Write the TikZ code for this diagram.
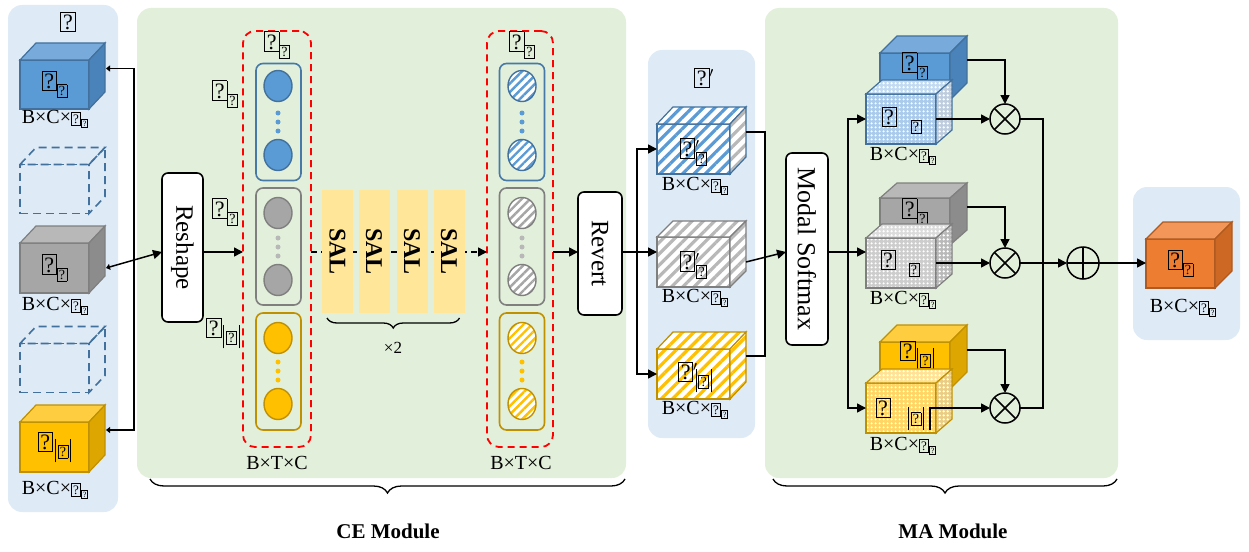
\documentclass[tikz,border=0pt]{standalone}
\usepackage{fontspec}
\setmainfont{Liberation Serif}
\usetikzlibrary{calc,arrows.meta,patterns.meta,shapes.geometric,decorations.pathreplacing}

% colours
\definecolor{pblue}{RGB}{222,234,246}
\definecolor{pgreen}{RGB}{226,239,218}
\definecolor{cbF}{RGB}{91,155,213}
\definecolor{cbT}{RGB}{120,170,220}
\definecolor{cbS}{RGB}{74,130,186}
\definecolor{cbD}{RGB}{65,113,156}
\definecolor{cgF}{RGB}{166,166,166}
\definecolor{cgT}{RGB}{184,184,184}
\definecolor{cgS}{RGB}{140,140,140}
\definecolor{cgD}{RGB}{127,127,127}
\definecolor{cyF}{RGB}{255,192,0}
\definecolor{cyT}{RGB}{255,206,64}
\definecolor{cyS}{RGB}{222,166,0}
\definecolor{cyD}{RGB}{191,144,0}
\definecolor{coF}{RGB}{237,125,49}
\definecolor{coT}{RGB}{242,150,90}
\definecolor{coS}{RGB}{205,104,36}
\definecolor{coD}{RGB}{174,90,33}
\definecolor{salc}{RGB}{255,230,153}
\definecolor{lbF}{RGB}{170,203,235}
\definecolor{lbS}{RGB}{190,205,222}
\definecolor{lgF}{RGB}{205,205,205}
\definecolor{lgS}{RGB}{185,185,185}
\definecolor{lyF}{RGB}{255,214,100}
\definecolor{lyS}{RGB}{235,205,130}

% boxed question-mark glyph
\newcommand\qb{{\setlength\fboxsep{0.6pt}\setlength\fboxrule{0.7pt}\fbox{\hspace{0.06em}\rule[-0.06em]{0pt}{0.8em}?\hspace{0.06em}}}}
\newcommand\qbig{{\fontsize{22}{22}\selectfont\qb}}
\newcommand\qsmall{{\fontsize{14}{14}\selectfont\qb}}
\newcommand\vbar{\rule[-13pt]{0.9pt}{23pt}}
\newcommand\symsub{\qbig\raisebox{-7.4pt}{\qsmall}}
\newcommand\symbar{\qbig\hspace{2pt}\vbar\hspace{2pt}\raisebox{-7.4pt}{\qsmall}\hspace{2pt}\vbar}
\newcommand\primesym{\qbig{\fontsize{20}{20}\selectfont$'$}}
\newcommand\primesub{\qbig{\fontsize{20}{20}\selectfont$'$}\hspace{-3pt}\raisebox{-7.4pt}{\qsmall}}
\newcommand\primebar{\qbig{\fontsize{20}{20}\selectfont$'$}\hspace{-2pt}\vbar\hspace{2pt}\raisebox{-7.4pt}{\qsmall}\hspace{2pt}\vbar}
\newcommand\dimlbl{B×C×{\fontsize{13}{13}\selectfont\qb}\raisebox{-3pt}{\fontsize{8}{8}\selectfont\qb}}
\newcommand\lblfont{\fontsize{20}{22}\selectfont}
\newcommand\opfont{\fontsize{25}{25}\selectfont}
\newcommand\salfont{\fontsize{24}{24}\selectfont\bfseries}

% top and side faces of a box whose front face is a node
\newcommand\cubesides[5]{%
  \path[#4] (#1.north west) -- ++(#2,-#3) -- ($(#1.north east)+(#2,-#3)$) -- (#1.north east) -- cycle;
  \path[#5] (#1.north east) -- ++(#2,-#3) -- ($(#1.south east)+(#2,-#3)$) -- (#1.south east) -- cycle;
}

\begin{document}
\begin{tikzpicture}[x=1pt,y=-1pt,
  wire/.style={line width=1.5pt,draw=black},
  arr/.style={wire,-{Triangle[length=9pt,width=9pt]}},
  opbox/.style={draw,line width=1.6pt,rounded corners=6pt,fill=white,inner sep=0pt,outer sep=0pt,font=\opfont},
  redbox/.style={draw=red,line width=1.8pt,rounded corners=12pt,dash pattern=on 7pt off 5pt,inner sep=0pt,outer sep=0pt},
  grp/.style={line width=1.6pt,rounded corners=7pt,inner sep=0pt,outer sep=0pt,minimum width=45pt,minimum height=117pt},
  tok/.style={ellipse,line width=1.4pt,minimum width=28pt,minimum height=31pt,inner sep=0pt,outer sep=0pt},
  tdot/.style={circle,inner sep=0pt,minimum size=5pt},
  face/.style={inner sep=0pt,outer sep=0pt,line width=1.2pt,font=\lblfont},
  sal/.style={fill=salc,inner sep=0pt,outer sep=0pt,minimum width=31pt,minimum height=123pt,font=\salfont},
  opc/.style={circle,draw,line width=1.5pt,minimum size=30pt,inner sep=0pt,outer sep=0pt},
  brace/.style={decorate,decoration={brace,mirror,amplitude=14pt},line width=1.3pt},
  txt/.style={inner sep=0pt,font=\lblfont},
  hatch/.style={preaction={fill=white},pattern={Lines[angle=45,distance=8pt,line width=3.2pt]},pattern color=#1},
  hatchs/.style={preaction={fill=white},pattern={Lines[angle=45,distance=6pt,line width=2.4pt]},pattern color=#1},
  dotted face/.style={preaction={fill=#1},pattern={Dots[radius=1.5pt,distance=4pt]},pattern color=white},
]
\useasboundingbox (0,0) rectangle (1249,551);

% ---------- panels ----------
\path[fill=pblue,rounded corners=14pt] (8,5) rectangle (118,512);
\path[fill=pgreen,rounded corners=14pt] (137,8) rectangle (626,478);
\path[fill=pblue,rounded corners=14pt] (648,50) rectangle (755,438);
\path[fill=pgreen,rounded corners=14pt] (765,8) rectangle (1118,478);
\path[fill=pblue,rounded corners=14pt] (1133,187) rectangle (1240,340);

% ---------- input modalities ----------
\node[txt] (inlbl) at (68,22) {\qbig};

\node[face,fill=cbF,draw=cbD,minimum width=69pt,minimum height=49pt] (in1) at (54.5,84.5) {\symsub};
\cubesides{in1}{16}{17}{fill=cbT,draw=cbD,line width=1.2pt}{fill=cbS,draw=cbD,line width=1.2pt}
\node[txt] (in1d) at (55,119) {\dimlbl};

\node[face,draw=cbD,dashed,dash pattern=on 8pt off 5pt,line width=1.6pt,minimum width=69pt,minimum height=49pt] (dc1) at (54.5,189) {};
\cubesides{dc1}{16}{17}{draw=cbD,line width=1.6pt,dash pattern=on 8pt off 5pt}{draw=cbD,line width=1.6pt,dash pattern=on 8pt off 5pt}

\node[face,fill=cgF,draw=cgD,minimum width=69pt,minimum height=50pt] (in2) at (54.5,268) {\symsub};
\cubesides{in2}{16}{17}{fill=cgT,draw=cgD,line width=1.2pt}{fill=cgS,draw=cgD,line width=1.2pt}
\node[txt] (in2d) at (55,306) {\dimlbl};

\node[face,draw=cbD,line width=1.6pt,dash pattern=on 8pt off 5pt,minimum width=69pt,minimum height=49pt] (dc2) at (54.5,368) {};
\cubesides{dc2}{16}{17}{draw=cbD,line width=1.6pt,dash pattern=on 8pt off 5pt}{draw=cbD,line width=1.6pt,dash pattern=on 8pt off 5pt}

\node[face,fill=cyF,draw=cyD,minimum width=69pt,minimum height=50pt] (in3) at (54.5,447) {\symbar};
\cubesides{in3}{16}{17}{fill=cyT,draw=cyD,line width=1.2pt}{fill=cyS,draw=cyD,line width=1.2pt}
\node[txt] (in3d) at (55,490) {\dimlbl};

\coordinate (axis) at (0,252);
\coordinate (jin) at (134,252);
\draw[wire,{Triangle[length=4pt,width=6pt]}-] ($(in1.east)+(17,-16)$) -| (jin);
\draw[wire,{Triangle[length=4pt,width=6pt]}-] ($(in3.east)+(17,-17)$) -| (jin);

% ---------- CE module ----------
\node[opbox,minimum width=41pt,minimum height=149pt] (reshape) at (182.5,247.5) {\rotatebox{-90}{Reshape}};
\draw[arr,{Triangle[length=4pt,width=6pt]}-{Triangle[length=9pt,width=9pt]}] ($(in2.east)+(17,0)$ |- axis) -- (reshape.west |- axis);

\node[redbox,minimum width=68pt,minimum height=416pt] (tok1) at (277,239) {};
\node[txt] (tok1l) at (277,45) {\symsub};
\node[txt] (lblb) at (225,94) {\symsub};
\node[txt] (lblg) at (225,212) {\symsub};
\node[txt] (lbly) at (223,333) {\symbar};
\draw[arr] (reshape.east |- axis) -- (tok1.west |- axis);

% token groups before the SAL stack
\node[grp,draw=cbD!80!cbF] (g1b) at (278.5,122) {};
\node[tok,fill=cbF,draw=cbD] (t1b1) at (278,86) {};
\node[tok,fill=cbF,draw=cbD] (t1b2) at (278,155) {};
\foreach \yy in {113,122,131} \node[tdot,fill=cbF] at (278,\yy) {};
\node[grp,draw=cgD] (g1g) at (278.5,246.5) {};
\node[tok,fill=cgF,draw=cgD] (t1g1) at (278,213) {};
\node[tok,fill=cgF,draw=cgD] (t1g2) at (278,280) {};
\foreach \yy in {238,247,256} \node[tdot,fill=cgF!80] at (278,\yy) {};
\node[grp,draw=cyD] (g1y) at (278.5,371.5) {};
\node[tok,fill=cyF,draw=cyD] (t1y1) at (278,338) {};
\node[tok,fill=cyF,draw=cyD] (t1y2) at (278,404) {};
\foreach \yy in {362,371,380} \node[tdot,fill=cyF] at (278,\yy) {};
\node[txt] (bt1) at (277,463) {B×T×C};

% SAL stack
\node[redbox,minimum width=66pt,minimum height=416pt] (tok2) at (520,239) {};
\draw[wire,dashed,dash pattern=on 6pt off 4pt,-{Triangle[length=9pt,width=9pt]}] (tok1.east |- axis) -- (tok2.west |- axis);
\node[sal] (sal1) at (337.5,251.5) {\rotatebox{-90}{SAL}};
\node[sal] (sal2) at (374,251.5) {\rotatebox{-90}{SAL}};
\node[sal] (sal3) at (412,251.5) {\rotatebox{-90}{SAL}};
\node[sal] (sal4) at (449,251.5) {\rotatebox{-90}{SAL}};
\draw[brace,decoration={amplitude=10pt}] ($(sal1.south west)+(5,5)$) -- ($(sal4.south east)+(-5,5)$);
\node[txt,font=\fontsize{17}{17}\selectfont] (rep) at (393,348) {×2};

% token groups after the SAL stack
\node[txt] (tok2l) at (522,45) {\symsub};
\node[grp,draw=cbD!80!cbF] (g2b) at (522,122) {};
\node[tok,hatchs=cbF,draw=cbD] (t2b1) at (522,86) {};
\node[tok,hatchs=cbF,draw=cbD] (t2b2) at (522,155) {};
\foreach \yy in {113,122,131} \node[tdot,fill=cbF] at (522,\yy) {};
\node[grp,draw=cgD] (g2g) at (522,246.5) {};
\node[tok,hatchs=cgF,draw=cgD] (t2g1) at (522,213) {};
\node[tok,hatchs=cgF,draw=cgD] (t2g2) at (522,280) {};
\foreach \yy in {238,247,256} \node[tdot,fill=cgF!80] at (522,\yy) {};
\node[grp,draw=cyD] (g2y) at (522,371.5) {};
\node[tok,hatchs=cyF,draw=cyD] (t2y1) at (522,338) {};
\node[tok,hatchs=cyF,draw=cyD] (t2y2) at (522,404) {};
\foreach \yy in {362,371,380} \node[tdot,fill=cyF] at (522,\yy) {};
\node[txt] (bt2) at (521,463) {B×T×C};

\node[opbox,minimum width=44pt,minimum height=123pt] (revert) at (600,253.5) {\rotatebox{-90}{Revert}};
\draw[arr] (tok2.east |- axis) -- (revert.west |- axis);

\draw[brace] (150,479) -- (625,479);
\node[txt,font=\fontsize{21}{21}\selectfont\bfseries] (celbl) at (388,531) {CE Module};

% ---------- reverted features ----------
\node[txt] (midl) at (704,78) {\primesym};
\node[face,hatch=cbF,draw=cbD,minimum width=73pt,minimum height=50pt] (mc1) at (693.5,149) {};
\cubesides{mc1}{16}{17}{hatch=cbF,draw=cbD,line width=1.2pt}{hatch=cgT,draw=cbD,line width=1.2pt}
\node[txt] (mc1t) at (693.5,152) {\primesub};
\node[txt] (mc1d) at (695,186) {\dimlbl};

\node[face,hatch=cgT,draw=cgD,minimum width=73pt,minimum height=50pt] (mc2) at (693.5,262) {};
\cubesides{mc2}{16}{16}{hatch=cgT,draw=cgD,line width=1.2pt}{hatch=cgT,draw=cgD,line width=1.2pt}
\node[txt] (mc2t) at (693.5,265) {\primesub};
\node[txt] (mc2d) at (695,298) {\dimlbl};

\node[face,hatch=cyF,draw=cyD,minimum width=73pt,minimum height=50pt] (mc3) at (693.5,374) {};
\cubesides{mc3}{16}{17}{hatch=cyF,draw=cyD,line width=1.2pt}{hatch=cyF,draw=cyD,line width=1.2pt}
\node[txt] (mc3t) at (695,377) {\primebar};
\node[txt] (mc3d) at (695,410) {\dimlbl};

\coordinate (jrv) at (637,252);
\draw[wire] (revert.east |- axis) -- (jrv);
\draw[arr] (jrv) |- (mc1.west);
\draw[arr] (jrv) -- (mc2.west |- axis);
\draw[arr] (jrv) |- (mc3.west);

\coordinate (jmc) at (765,252);
\draw[wire] ($(mc1.east)+(16,-17)$) -| (jmc);
\draw[wire] ($(mc3.east)+(16,-18)$) -| (jmc);

% ---------- MA module ----------
\node[opbox,minimum width=42pt,minimum height=192pt,font=\fontsize{26}{26}\selectfont] (softmax) at (807,249) {\rotatebox{-90}{Modal Softmax}};
\draw[arr] ($(mc2.east)+(16,0)$ |- axis) -- (softmax.west |- axis);

% blue pair
\node[face,fill=cbF,draw=cbD,minimum width=70pt,minimum height=47pt] (ma1b) at (915,76.5) {};
\cubesides{ma1b}{17}{17}{fill=cbT,draw=cbD,line width=1.2pt}{fill=cbS,draw=cbD,line width=1.2pt}
\node[txt] (ma1bt) at (915,66) {\symsub};
\node[face,dotted face=lbF,draw=cbD,minimum width=70pt,minimum height=50pt] (ma1f) at (901,119) {};
\cubesides{ma1f}{16}{14}{dotted face=lbF!70,draw=cbD,line width=1.2pt}{dotted face=lbS,draw=cbD,line width=1.2pt}
\node[txt] (ma1fa) at (889,117) {\qbig};
\node[txt] (ma1fb) at (916,127) {\qsmall};
\node[txt] (ma1d) at (903,156) {\dimlbl};

% gray pair
\node[face,fill=cgF,draw=cgD,minimum width=70pt,minimum height=47pt] (ma2b) at (915,221.5) {};
\cubesides{ma2b}{17}{15}{fill=cgT,draw=cgD,line width=1.2pt}{fill=cgS,draw=cgD,line width=1.2pt}
\node[txt] (ma2bt) at (915,212) {\symsub};
\node[face,dotted face=lgF,draw=cgD,minimum width=70pt,minimum height=50pt] (ma2f) at (901,263) {};
\cubesides{ma2f}{16}{14}{dotted face=lgF!70,draw=cgD,line width=1.2pt}{dotted face=lgS,draw=cgD,line width=1.2pt}
\node[txt] (ma2fa) at (888,260) {\qbig};
\node[txt] (ma2fb) at (914,270) {\qsmall};
\node[txt] (ma2d) at (903,300) {\dimlbl};

% yellow pair
\node[face,fill=cyF,draw=cyD,minimum width=70pt,minimum height=47pt] (ma3b) at (915,365.5) {};
\cubesides{ma3b}{17}{17}{fill=cyT,draw=cyD,line width=1.2pt}{fill=cyS,draw=cyD,line width=1.2pt}
\node[txt] (ma3bt) at (917,356) {\symbar};
\node[face,dotted face=lyF,draw=cyD,minimum width=70pt,minimum height=50pt] (ma3f) at (901,408) {};
\cubesides{ma3f}{16}{14}{dotted face=lyF!70,draw=cyD,line width=1.2pt}{dotted face=lyS,draw=cyD,line width=1.2pt}
\node[txt] (ma3fa) at (883,408) {\qbig};
\node[txt] (ma3fb) at (916,418) {\vbar\hspace{2pt}\raisebox{-7.4pt}{\qsmall}\hspace{2pt}\vbar};
\node[txt] (ma3d) at (903,446) {\dimlbl};

\coordinate (jsm) at (848,252);
\draw[wire] (softmax.east |- axis) -- (jsm);
\draw[arr] (jsm) |- (ma1f.west);
\draw[arr] (jsm) -- (ma2f.west |- axis);
\draw[arr] (jsm) |- (ma3f.west);

% weighting and fusion
\node[opc] (ox1) at (1005,119) {};
\node[opc] (ox2) at (1005,263) {};
\node[opc] (ox3) at (1005,408) {};
\foreach \o in {ox1,ox2,ox3} {
  \draw[line width=1.5pt] (\o.north west) -- (\o.south east);
  \draw[line width=1.5pt] (\o.north east) -- (\o.south west);
}
\node[opc,minimum size=32pt] (plus) at (1083,263) {};
\draw[line width=1.5pt] (plus.north) -- (plus.south);
\draw[line width=1.5pt] (plus.west) -- (plus.east);

\draw[arr] (ma1f.east) -- (ox1.west);
\draw[arr] (ma2f.east) -- (ox2.west);
\draw[arr] ($(ma3f.south east)+(-6,-3)$) |- (ox3.west);
\draw[arr] ($(ma1b.east)+(17,-16.5)$) -| (ox1.north);
\draw[arr] ($(ma2b.east)+(17,-14.5)$) -| (ox2.north);
\draw[arr] ($(ma3b.east)+(17,-15.5)$) -| (ox3.north);

\coordinate (jsum) at (1043,263);
\draw[wire] (ox1.east) -| (jsum);
\draw[wire] (ox3.east) -| (jsum);
\draw[arr] (ox2.east) -- (plus.west);

\draw[brace] (773,479) -- (1117,479);
\node[txt,font=\fontsize{21}{21}\selectfont\bfseries] (malbl) at (953,531) {MA Module};

% ---------- output ----------
\node[face,fill=coF,draw=coD,minimum width=69pt,minimum height=49pt] (outc) at (1180.5,263.5) {\symsub};
\cubesides{outc}{17}{17}{fill=coT,draw=coD,line width=1.2pt}{fill=coS,draw=coD,line width=1.2pt}
\node[txt] (outd) at (1183,308) {\dimlbl};
\draw[arr] (plus.east) -- (outc.west |- plus);
\end{tikzpicture}
\end{document}
